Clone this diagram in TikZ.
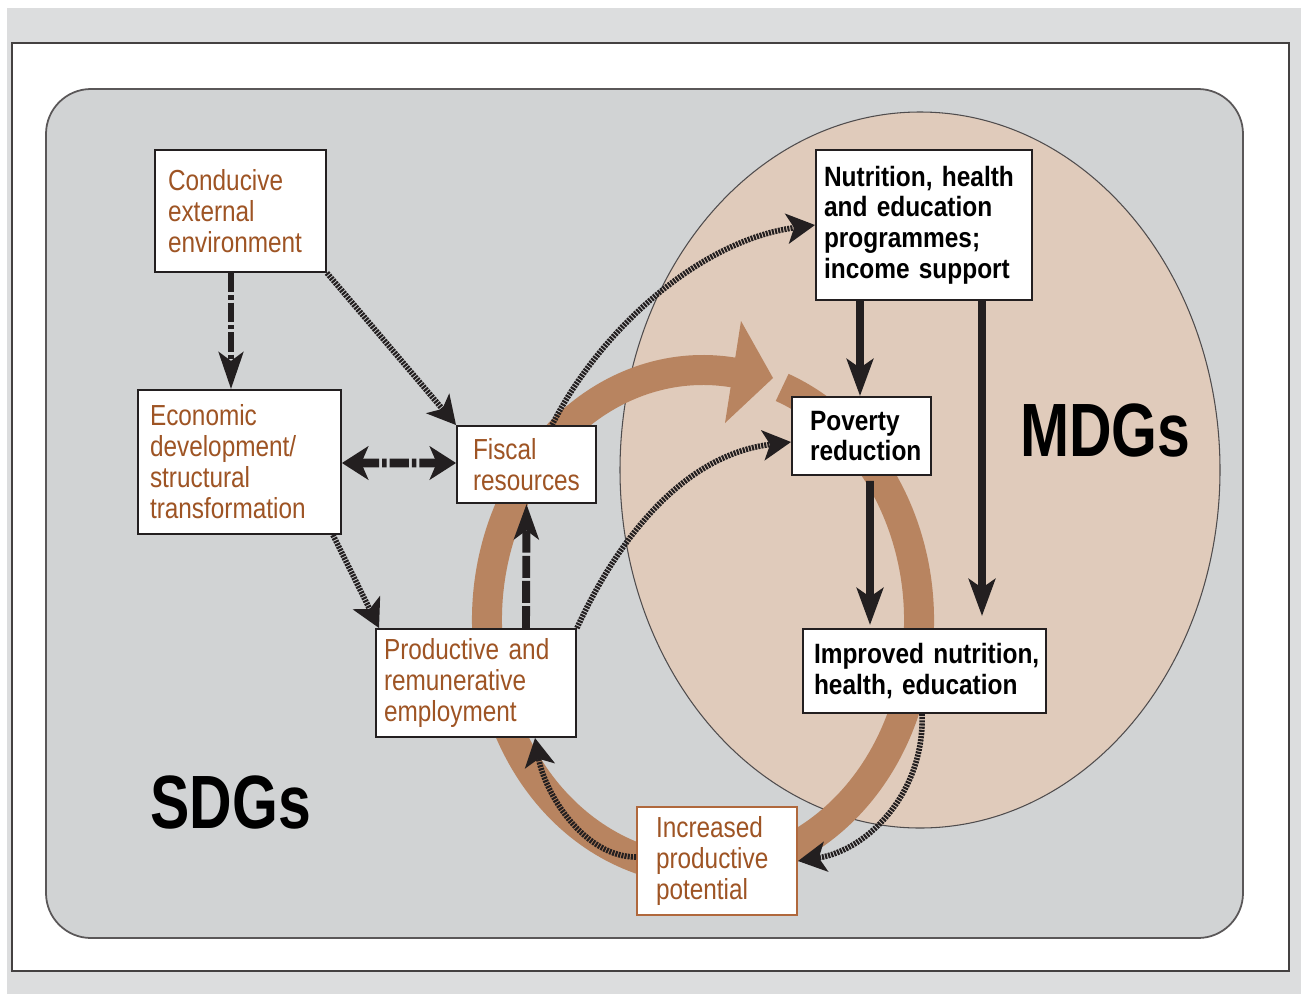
\documentclass[tikz,border=0pt]{standalone}
\usepackage{fontspec}
\setmainfont{Liberation Sans}
\newfontfamily\narfont[FakeStretch=0.84]{Liberation Sans}
\newfontfamily\narbfont[FakeStretch=0.875]{Liberation Sans}
\newfontfamily\bigfont[FakeStretch=0.78]{Liberation Sans}
\usetikzlibrary{arrows.meta}
\definecolor{outergray}{RGB}{220,221,222}
\definecolor{panelgray}{RGB}{209,211,212}
\definecolor{tanfill}{RGB}{224,203,187}
\definecolor{ringbrown}{RGB}{184,132,96}
\definecolor{txtbrown}{RGB}{158,84,36}
\definecolor{boxbrown}{RGB}{176,104,60}
\definecolor{ink}{RGB}{35,31,32}
\tikzset{
  bbox/.style={draw=ink, line width=1.1pt, fill=white, inner xsep=0pt, inner ysep=0pt,
    align=left, text=txtbrown, font=\narfont\fontsize{16.5}{17.6}\selectfont},
  blackbox/.style={bbox, text=black, font=\narbfont\bfseries\fontsize{15.9}{17.4}\selectfont},
  solidarr/.style={draw=ink, line width=4.5pt, -{Stealth[length=21pt,width=15pt,inset=5pt]}},
  dotarr/.style={draw=ink, line width=3.2pt, dash pattern=on 1.2pt off 0.6pt,
    -{Stealth[length=16pt,width=17pt,inset=4pt]}},
  dasharr/.style={draw=ink, line width=3.4pt, dash pattern=on 11pt off 1.7pt on 2.5pt off 1.7pt,
    -{Stealth[length=21pt,width=14pt,inset=5pt]}},
  biglabel/.style={anchor=base west, inner sep=0pt, text=black,
    font=\bigfont\bfseries\fontsize{43}{43}\selectfont}
}
\begin{document}
\begin{tikzpicture}[x=0.02cm,y=-0.02cm]
\useasboundingbox (0,0) rectangle (1301,994);
% backgrounds
\fill[outergray] (7,8) rectangle (1301,994);
\draw[fill=white, line width=1.2pt, draw=ink!85] (12,43) rectangle (1289,971);
\draw[fill=panelgray, draw=ink!75, line width=1pt, rounded corners=0.9cm] (46,89) rectangle (1243,938);
\draw[fill=tanfill, draw=ink!80, line width=0.6pt] (920,470) ellipse [x radius=300, y radius=358];
% brown cycle
\draw[ringbrown, line width=0.6cm] (703,620) ++(-68.5:216 and 250)
  arc[start angle=-68.5, end angle=279, x radius=216, y radius=250];
\fill[ringbrown] (741,321) -- (773,378) -- (725,423) -- cycle;
% boxes
\node[bbox, minimum width=3.42cm, minimum height=2.44cm, text width=2.9cm] (cond) at (240.5,211)
  {Conducive\\external\\environment};
\node[bbox, minimum width=4.06cm, minimum height=2.88cm, text width=3.58cm] (econ) at (239.5,462)
  {Economic\\development/\\structural\\transformation};
\node[bbox, minimum width=2.78cm, minimum height=1.54cm, text width=2.14cm] (fisc) at (526.5,464.5)
  {Fiscal\\resources};
\node[bbox, minimum width=4.0cm, minimum height=2.16cm, text width=3.68cm] (prod) at (476,683)
  {\mbox{Productive and}\\remunerative\\employment};
\node[bbox, draw=boxbrown, minimum width=3.2cm, minimum height=2.16cm, text width=2.44cm] (incr) at (717,861)
  {Increased\\productive\\potential};
\node[blackbox, minimum width=4.32cm, minimum height=3.0cm, text width=4.0cm] (nutr) at (924,225)
  {\mbox{Nutrition, health}\\\mbox{and education}\\programmes;\\\mbox{income support}};
\node[blackbox, minimum width=2.78cm, minimum height=1.56cm, text width=2.06cm] (pov) at (861.5,436)
  {Poverty\\reduction};
\node[blackbox, minimum width=4.86cm, minimum height=1.68cm, text width=4.42cm] (impr) at (924.5,671)
  {\mbox{Improved nutrition,}\\\mbox{health, education}};
% labels
\node[biglabel] (sdg) at (150,828) {SDGs};
\node[biglabel] (mdg) at (1020,456) {MDGs};
% connectors
\draw[dasharr] ([xshift=-0.19cm]cond.south) -- ([xshift=-0.17cm]econ.north);
\draw[dotarr] (cond.south east) -- (fisc.north west);
\draw[dasharr, line width=5pt, {Stealth[length=15pt,width=19pt,inset=4pt]}-{Stealth[length=15pt,width=19pt,inset=4pt]}]
  ([yshift=-0.02cm]econ.east) -- ([yshift=0.03cm]fisc.west);
\draw[dotarr] ([xshift=-0.18cm]econ.south east) -- ([xshift=0.08cm]prod.north west);
\draw[dasharr, line width=4.5pt, dash pattern=on 12.5pt off 1.8pt, -{Stealth[length=20pt,width=14pt,inset=5pt]}]
  ([xshift=1.0cm]prod.north) -- (fisc.south);
\draw[dotarr] ([xshift=0.51cm]fisc.north) .. controls (600,330) and (700,240) .. (nutr.west);
\draw[dotarr] (prod.north east) .. controls (615,545) and (680,455) .. ([yshift=-0.12cm]pov.west);
\draw[solidarr] ([xshift=-1.28cm]nutr.south) -- ([xshift=-0.03cm]pov.north);
\draw[solidarr, shorten >=0.24cm] ([xshift=1.16cm]nutr.south) -- ([xshift=1.15cm]impr.north);
\draw[solidarr, shorten >=0.06cm] ([xshift=0.17cm,yshift=-0.1cm]pov.south) -- ([xshift=-1.09cm]impr.north);
\draw[dotarr] ([xshift=-0.05cm]impr.south) .. controls (925,790) and (870,850) .. (incr.east);
\draw[dotarr] ([yshift=0.08cm]incr.west) .. controls (585,857) and (545,795) .. ([xshift=1.18cm]prod.south);
\end{tikzpicture}
\end{document}
